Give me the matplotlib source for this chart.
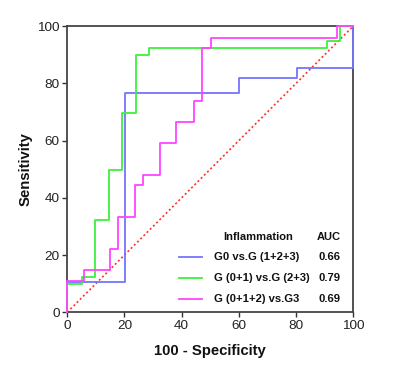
import matplotlib
matplotlib.use("Agg")
import matplotlib.pyplot as plt

plt.rcParams['font.family'] = ['Liberation Sans', 'DejaVu Sans']

# ROC step data (100 - specificity, sensitivity)
g0_x = [0, 0, 20.2, 60.1, 80.2, 100]
g0_y = [0, 10.5, 76.5, 81.8, 85.4, 100]

g01_x = [0, 0, 5.0, 9.8, 14.6, 19.2, 24.1, 28.7, 90.7, 95.3, 100]
g01_y = [0, 9.9, 12.5, 32.2, 49.7, 69.7, 89.8, 92.2, 94.8, 100, 100]

g012_x = [0, 0, 5.9, 14.9, 17.8, 23.7, 26.6, 32.4, 38.2, 44.3, 47.3, 50.2, 94.4, 100]
g012_y = [0, 11.1, 14.7, 22.1, 33.2, 44.4, 48.1, 59.0, 66.4, 73.9, 92.2, 96.0, 100, 100]

labels = ["G0 vs.G (1+2+3)", "G (0+1) vs.G (2+3)", "G (0+1+2) vs.G3"]
aucs = ["0.66", "0.79", "0.69"]
colors = ["#7474ff", "#3cf03c", "#ff44ff"]
ticks = [0, 20, 40, 60, 80, 100]

fig = plt.figure(figsize=(4.0, 3.74), dpi=100)
ax = fig.add_axes([0.168, 0.165, 0.715, 0.765])

series = [(g0_x, g0_y), (g01_x, g01_y), (g012_x, g012_y)]
for (xs, ys), c in zip(series, colors):
    ax.plot(xs, ys, drawstyle='steps-post', color=c, lw=1.3, clip_on=False, zorder=3)

ax.plot([0, 100], [0, 100], color='#ff3030', lw=1.2, linestyle=(0, (1.2, 1.5)), zorder=2)

ax.set_xlim(0, 100)
ax.set_ylim(0, 100)
ax.set_xticks(ticks)
ax.set_yticks(ticks)
ax.tick_params(direction='out', length=3.5, width=1.0, color='#333333',
               labelsize=9.7, labelcolor='#222222', pad=2)
for s in ax.spines.values():
    s.set_linewidth(1.3)
    s.set_color('#444444')

ax.set_xlabel("100 - Specificity", fontsize=10.7, fontweight='bold', labelpad=9, color='#111111')
ax.set_ylabel("Sensitivity", fontsize=10.7, fontweight='bold', labelpad=3, color='#111111')

# legend (manual, in axes fraction)
ax.text(0.667, 0.264, "Inflammation", transform=ax.transAxes, ha='center', va='center',
        fontsize=8, fontweight='bold', color='#111111')
ax.text(0.916, 0.264, "AUC", transform=ax.transAxes, ha='center', va='center',
        fontsize=8, fontweight='bold', color='#111111')
rows = [0.193, 0.120, 0.047]
for lab, a, c, ry in zip(labels, aucs, colors, rows):
    ax.plot([0.39, 0.471], [ry, ry], transform=ax.transAxes, color=c, lw=1.3)
    ax.text(0.513, ry, lab, transform=ax.transAxes, ha='left', va='center',
            fontsize=8.1, fontweight='bold', color='#111111')
    ax.text(0.957, ry, a, transform=ax.transAxes, ha='right', va='center',
            fontsize=8.1, fontweight='bold', color='#111111')

fig.savefig("out.png", dpi=100)
